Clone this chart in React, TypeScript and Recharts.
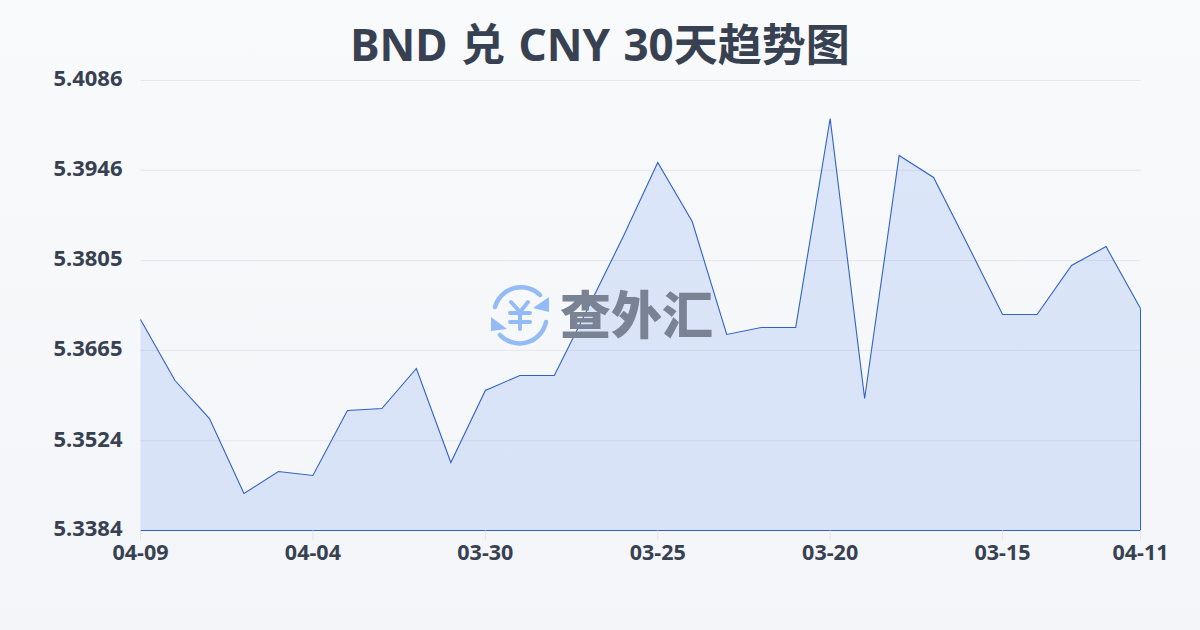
import React from 'react';
import { AreaChart, Area, XAxis, YAxis, CartesianGrid, ReferenceLine } from 'recharts';

const dates = [
  '04-09', '04-08', '04-07', '04-06', '04-05', '04-04', '04-03', '04-02', '04-01', '03-31',
  '03-30', '03-29', '03-28', '03-27', '03-26', '03-25', '03-24', '03-23', '03-22', '03-21',
  '03-20', '03-19', '03-18', '03-17', '03-16', '03-15', '03-14', '03-13', '03-12', '04-11',
];
const rates = [
  5.37132, 5.3618, 5.35587, 5.34417, 5.3476, 5.34698, 5.35712, 5.35743, 5.36367, 5.34901,
  5.36024, 5.36258, 5.36258, 5.37334, 5.38426, 5.39581, 5.3866, 5.36898, 5.37007, 5.37007,
  5.40267, 5.35899, 5.3969, 5.39347, 5.38286, 5.3721, 5.3721, 5.37974, 5.3827, 5.37303,
];
const xTicks = ['04-09', '04-04', '03-30', '03-25', '03-20', '03-15', '04-11'];
const yTicks = [5.3384, 5.3524, 5.3665, 5.3805, 5.3946, 5.4086];

const data = dates.map((date, i) => ({ date, rate: rates[i] }));

const LINE = '#2f62c9';
const TEXT = '#374151';
const FONT = '"Noto Sans", "Noto Sans CJK SC", sans-serif';
const CJK_FONT = '"Noto Sans CJK SC", "Noto Sans", sans-serif';

const Watermark: React.FC = () => (
  <>
    <svg
      width={64}
      height={62}
      viewBox="0 0 64 62"
      fill="none"
      stroke="#93bbf8"
      strokeLinecap="round"
      strokeLinejoin="round"
      style={{ position: 'absolute', left: 488, top: 284 }}
    >
      <path d="M7 23 A27 27 0 0 1 52 11" strokeWidth={4.5} />
      <path d="M58 38 A27 27 0 0 1 12 51" strokeWidth={4.5} />
      <path d="M61 13 L61 28 L45 24 Z" fill="#93bbf8" stroke="none" />
      <path d="M3 33 L3 47 L19 45 Z" fill="#93bbf8" stroke="none" />
      <path d="M23 18 L32 28 L40 18 M22 29 H42 M22 38 H42 M32 28 V45" strokeWidth={4} />
    </svg>
    <span style={{ position: 'absolute', left: 560, top: 281, fontFamily: CJK_FONT, fontWeight: 900, fontSize: 51, lineHeight: '62px', color: '#7a8394' }}>
      查外汇
    </span>
  </>
);

export default function App() {
  return (
    <div style={{ position: 'absolute', left: 0, top: 0, width: 1200, height: 630, overflow: 'hidden', background: 'linear-gradient(180deg, #f8fafc 0%, #f3f5f8 100%)' }}>
      <div style={{ position: 'absolute', left: 0, top: 12, width: 1200, textAlign: 'center', fontFamily: FONT, fontWeight: 700, fontSize: 44, lineHeight: '64px', wordSpacing: 2, color: TEXT }}>
        BND 兑 CNY 30天趋势图
      </div>
      <AreaChart width={1200} height={630} data={data} margin={{ top: 80.5, right: 59.5, left: 0, bottom: 0 }}>
        <defs>
          <linearGradient id="rateFill" x1="0" y1="0" x2="0" y2="1">
            <stop offset="0%" stopColor="#2563eb" stopOpacity={0.13} />
            <stop offset="100%" stopColor="#2563eb" stopOpacity={0.13} />
          </linearGradient>
        </defs>
        <CartesianGrid horizontal vertical={false} stroke="#e5e7eb" />
        <XAxis
          dataKey="date"
          ticks={xTicks}
          interval={0}
          height={99.5}
          axisLine={false}
          tickLine={{ stroke: '#e5e7eb' }}
          tickSize={10}
          tickMargin={4}
          tick={{ fill: TEXT, fontSize: 21.5, fontWeight: 700, fontFamily: FONT }}
        />
        <YAxis
          domain={[5.3384, 5.4086]}
          ticks={yTicks}
          width={140.5}
          axisLine={false}
          tickLine={false}
          tickMargin={18}
          tickSize={0}
          tickFormatter={(v: number) => v.toFixed(4)}
          tick={{ fill: TEXT, fontSize: 22, fontWeight: 700, fontFamily: FONT, dy: -2 }}
        />
        <Area type="linear" dataKey="rate" stroke={LINE} strokeWidth={1.1} fill="url(#rateFill)" fillOpacity={1} dot={false} activeDot={false} isAnimationActive={false} />
        <ReferenceLine y={5.3384} stroke={LINE} />
        <ReferenceLine stroke={LINE} segment={[{ x: '04-09', y: 5.3384 }, { x: '04-09', y: rates[0] }]} />
        <ReferenceLine stroke={LINE} segment={[{ x: '04-11', y: 5.3384 }, { x: '04-11', y: rates[29] }]} />
      </AreaChart>
      <Watermark />
    </div>
  );
}
